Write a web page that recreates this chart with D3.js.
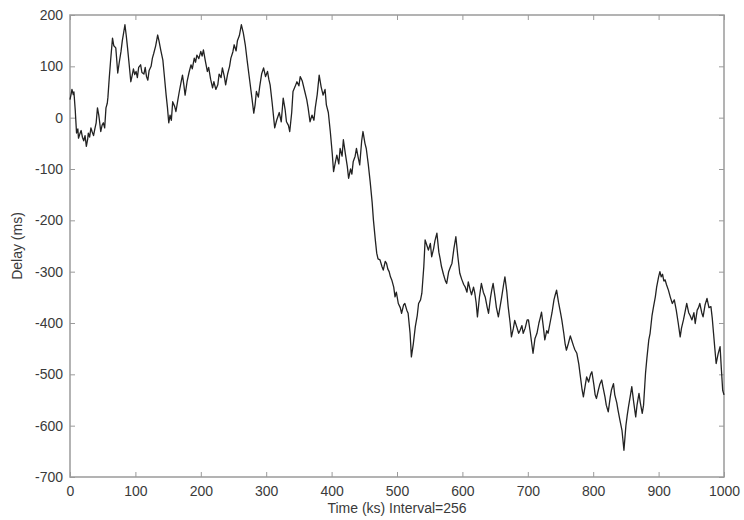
<!DOCTYPE html>
<html>
<head>
<meta charset="utf-8">
<script src="https://cdn.jsdelivr.net/npm/d3@7/dist/d3.min.js"></script>
<style>
  html, body { margin: 0; padding: 0; background: #fff; }
  svg { display: block; }
  .tick-label { font-family: "Liberation Sans", Arial, sans-serif; font-size: 14px; fill: #3a3a3a; }
  .axis-title { font-family: "Liberation Sans", Arial, sans-serif; font-size: 14px; fill: #3a3a3a; }
</style>
</head>
<body>
<svg id="chart" width="744" height="520"></svg>
<script>
// Delay samples, grouped by 100 ks of elapsed time.
const timeKs = [
  0,2,3,5,6,8,10,12,13,15,17,19,21,23,25,27,28,30,32,34,36,38,40,42,44,45,47,49,51,53,55,57,58,60,62,65,67,70,71,73,75,78,80,82,84,86,88,90,93,95,97,99,
  101,103,105,108,110,113,115,117,119,121,124,126,128,131,134,136,139,142,144,147,149,151,153,155,157,160,162,165,167,170,172,174,176,179,182,185,187,190,192,194,197,200,
  202,204,207,210,212,215,218,220,223,226,228,231,233,236,238,241,244,246,249,251,254,256,259,262,265,268,271,275,278,281,283,285,288,290,293,296,299,
  302,304,306,309,313,316,320,323,326,329,331,334,336,339,341,344,347,350,352,355,359,362,364,367,370,373,375,378,381,384,387,390,392,395,398,
  401,403,406,408,411,413,416,418,421,424,426,429,431,433,436,438,441,443,446,448,451,453,456,459,462,464,467,469,471,474,477,479,482,484,486,488,490,492,495,497,499,
  502,505,507,510,512,515,517,520,522,525,528,531,533,536,538,541,543,546,548,551,553,556,558,561,564,566,568,571,574,576,579,582,584,587,590,593,596,599,
  602,604,607,609,612,614,617,619,621,623,626,629,632,635,638,640,643,645,647,650,652,655,658,660,663,665,668,670,673,675,678,680,683,686,688,691,693,696,699,
  701,704,706,708,711,714,717,719,721,724,726,729,731,734,737,740,742,744,747,750,752,755,757,759,762,765,767,770,772,775,778,780,783,785,788,790,793,796,798,
  801,803,805,808,810,813,815,818,820,823,826,828,831,833,836,838,841,844,847,850,852,854,857,859,862,865,867,870,872,875,877,880,882,885,887,890,892,895,897,900,
  902,904,906,908,910,912,915,918,921,924,927,930,933,935,938,941,943,946,948,951,954,956,959,961,963,966,968,971,974,977,980,982,984,986,988,991,994,996,998,1000
];

const delayMs = [
  35,48,55,45,50,15,-30,-22,-40,-32,-25,-38,-45,-35,-56,-42,-30,-38,-20,-28,-35,-22,-10,19,5,-5,-27,-15,-10,-20,19,28,40,77,110,155,140,136,120,87,105,129,150,165,181,160,136,110,70,82,95,84,
  90,78,98,103,88,85,98,80,73,92,100,116,125,140,161,150,130,112,85,44,20,-10,5,-5,31,22,12,35,50,70,83,65,44,70,88,103,95,116,108,122,115,129,
  120,132,110,90,98,75,58,70,55,64,85,78,97,80,64,85,100,116,128,142,130,150,160,181,165,142,110,70,40,9,25,51,40,60,85,97,80,
  90,75,64,30,-20,-5,10,-8,38,15,-8,-15,-27,10,51,60,70,62,80,72,51,35,20,-8,5,-5,19,45,83,60,44,55,25,10,-27,
  -70,-105,-85,-73,-90,-60,-75,-43,-70,-95,-118,-100,-110,-86,-75,-60,-80,-92,-45,-27,-50,-60,-90,-125,-165,-200,-240,-264,-275,-277,-290,-297,-280,-284,-295,-300,-310,-316,-330,-349,-340,
  -362,-370,-381,-365,-362,-375,-381,-420,-466,-440,-407,-385,-362,-355,-342,-290,-238,-250,-258,-245,-271,-255,-240,-225,-262,-275,-290,-305,-318,-323,-300,-290,-284,-255,-232,-270,-303,-315,
  -325,-329,-340,-320,-336,-345,-330,-342,-360,-388,-350,-323,-340,-350,-370,-381,-350,-335,-323,-350,-370,-388,-365,-350,-325,-310,-340,-368,-400,-427,-410,-395,-407,-420,-415,-405,-420,-410,-394,
  -394,-420,-440,-459,-430,-420,-400,-390,-379,-410,-433,-415,-420,-400,-380,-355,-345,-336,-360,-380,-394,-420,-440,-453,-440,-425,-433,-445,-452,-459,-480,-500,-530,-544,-520,-505,-515,-500,-495,
  -520,-540,-547,-530,-520,-511,-525,-544,-560,-573,-545,-530,-518,-540,-555,-570,-590,-609,-648,-600,-580,-563,-540,-524,-555,-583,-560,-537,-555,-576,-560,-498,-470,-433,-420,-385,-370,-349,-330,-310,
  -300,-310,-305,-318,-316,-325,-336,-350,-362,-355,-375,-400,-427,-410,-394,-375,-362,-380,-385,-394,-380,-401,-375,-370,-362,-380,-388,-365,-352,-370,-368,-390,-420,-450,-479,-460,-446,-490,-531,-540
];

const xTicks = [0, 100, 200, 300, 400, 500, 600, 700, 800, 900, 1000];
const yTicks = [-700, -600, -500, -400, -300, -200, -100, 0, 100, 200];
const xTitle = "Time (ks) Interval=256";
const yTitle = "Delay (ms)";

const n = Math.min(timeKs.length, delayMs.length);
const series = d3.range(n).map(i => ({ t: timeKs[i], v: delayMs[i] }));

const svg = d3.select("#chart");
const plot = { left: 70, right: 724, top: 15, bottom: 477 };

const x = d3.scaleLinear().domain([0, 1000]).range([plot.left, plot.right]);
const y = d3.scaleLinear().domain([-700, 200]).range([plot.bottom, plot.top]);

const frameColor = "#9a9a9a";
const tickLen = 5;
// Plain hyphen for negative numbers
const fmt = d => String(d);

// Axes with inward ticks on all four sides
const axisBottom = d3.axisBottom(x).tickValues(xTicks).tickSize(-tickLen).tickPadding(9).tickFormat(fmt);
const axisTop = d3.axisTop(x).tickValues(xTicks).tickSize(-tickLen).tickFormat("");
const axisLeft = d3.axisLeft(y).tickValues(yTicks).tickSize(-tickLen).tickPadding(7).tickFormat(fmt);
const axisRight = d3.axisRight(y).tickValues(yTicks).tickSize(-tickLen).tickFormat("");

function styleAxis(g) {
  g.select(".domain").remove();
  g.selectAll(".tick line").attr("stroke", frameColor).attr("stroke-width", 1);
  g.selectAll(".tick text").attr("class", "tick-label").attr("fill", null);
}

svg.append("g").attr("transform", `translate(0,${plot.bottom})`).call(axisBottom).call(styleAxis);
svg.append("g").attr("transform", `translate(0,${plot.top})`).call(axisTop).call(styleAxis);
svg.append("g").attr("transform", `translate(${plot.left},0)`).call(axisLeft).call(styleAxis);
svg.append("g").attr("transform", `translate(${plot.right},0)`).call(axisRight).call(styleAxis);

// Plot frame
svg.append("rect")
  .attr("x", plot.left).attr("y", plot.top)
  .attr("width", plot.right - plot.left).attr("height", plot.bottom - plot.top)
  .attr("fill", "none").attr("stroke", frameColor).attr("stroke-width", 1.5);

// Delay trace
const line = d3.line().x(d => x(d.t)).y(d => y(d.v));
svg.append("path")
  .datum(series)
  .attr("d", line)
  .attr("fill", "none")
  .attr("stroke", "#222")
  .attr("stroke-width", 1.3)
  .attr("stroke-linejoin", "round");

// Axis titles
svg.append("text")
  .attr("class", "axis-title")
  .attr("x", (plot.left + plot.right) / 2)
  .attr("y", 513)
  .attr("text-anchor", "middle")
  .text(xTitle);

svg.append("text")
  .attr("class", "axis-title")
  .attr("transform", `translate(22,${(plot.top + plot.bottom) / 2}) rotate(-90)`)
  .attr("text-anchor", "middle")
  .text(yTitle);
</script>
</body>
</html>
